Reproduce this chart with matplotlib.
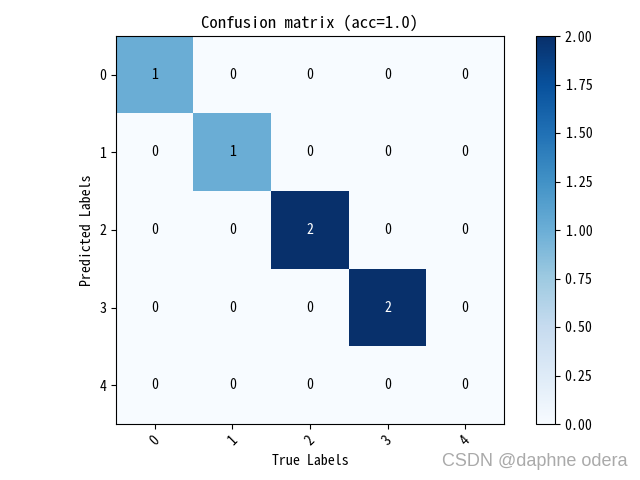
import numpy as np
import matplotlib
matplotlib.use('Agg')
import matplotlib.pyplot as plt

plt.rcParams['font.family'] = ['Noto Sans Mono CJK SC', 'Noto Sans CJK SC', 'DejaVu Sans']
plt.rcParams['axes.unicode_minus'] = False

classes = ['0', '1', '2', '3', '4']
cm = np.array([
    [1, 0, 0, 0, 0],
    [0, 1, 0, 0, 0],
    [0, 0, 2, 0, 0],
    [0, 0, 0, 2, 0],
    [0, 0, 0, 0, 0],
])
acc = 1.0

fig = plt.figure(figsize=(6.4, 4.8), dpi=100)
ax = fig.add_axes([116 / 640, 56 / 480, 388 / 640, 388 / 480])
cax = fig.add_axes([536 / 640, 56 / 480, 19 / 640, 388 / 480])

im = ax.imshow(cm, interpolation='nearest', cmap=plt.cm.Blues)
ax.set_title('Confusion matrix (acc={})'.format(acc))
fig.colorbar(im, cax=cax)
ticks = np.arange(len(classes))
ax.set_xticks(ticks, classes, rotation=45)
ax.set_yticks(ticks, classes)

thresh = cm.max() / 2.0
for i in range(cm.shape[0]):
    for j in range(cm.shape[1]):
        ax.text(j, i, str(cm[i, j]), ha='center', va='center',
                color='white' if cm[i, j] > thresh else 'black')

ax.set_ylabel('Predicted Labels')
ax.set_xlabel('True Labels')

fig.text(0.98, 0.038, 'CSDN @daphne odera', ha='right', va='center',
         fontsize=13, color='#aaaaaa', family=['Liberation Sans', 'DejaVu Sans'])

plt.savefig('out.png', dpi=100)
